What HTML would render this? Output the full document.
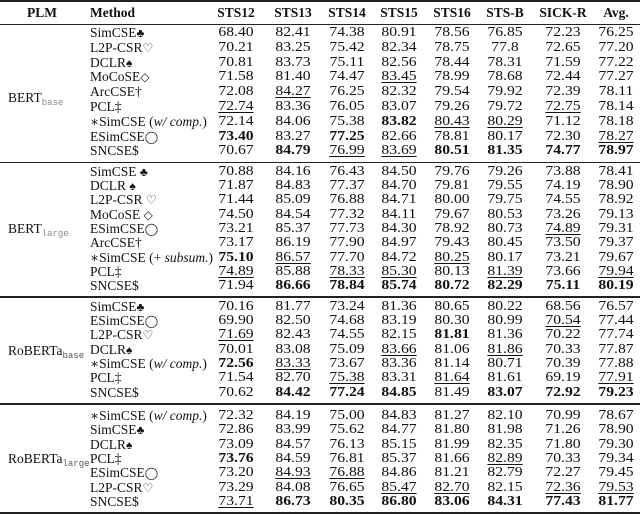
<!DOCTYPE html>
<html><head><meta charset="utf-8">
<style>
html,body{margin:0;padding:0;background:#fff;}
body{width:640px;height:514px;position:relative;overflow:hidden;font-family:"Liberation Serif","DejaVu Serif",serif;font-size:14px;color:#111;}
.r{position:absolute;left:0;width:640px;height:16px;}
.r>span{position:absolute;top:0;height:16px;line-height:16px;white-space:nowrap;}
.c{width:60px;text-align:center;transform:scaleX(1.12);}
.r>span:nth-child(2){left:206px}
.r>span:nth-child(3){left:263px}
.r>span:nth-child(4){left:317px}
.r>span:nth-child(5){left:369px}
.r>span:nth-child(6){left:422px}
.r>span:nth-child(7){left:475px}
.r>span:nth-child(8){left:533px}
.r>span:nth-child(9){left:586px}
.m{font-size:13.5px;}
.r>span:nth-child(1){left:90px}
.hd>span{font-size:13.5px;transform:none;}
b{font-weight:bold}
u{text-decoration:underline;text-underline-offset:2px;}
.h{font-weight:bold}
.line{position:absolute;left:0;width:640px;background:#222;}
.plm{position:absolute;left:8px;height:16px;line-height:16px;font-size:13.5px;white-space:nowrap;}
.sub{font-family:"Liberation Mono",monospace;font-size:9px;color:#888;vertical-align:-3px;}
.sub2{font-family:"Liberation Mono",monospace;font-size:9px;color:#555;vertical-align:-3px;}
.sym{font-size:12px;}
</style></head><body>
<div class="line" style="top:0;height:2px"></div>
<div class="line" style="top:24px;height:1px"></div>
<div class="line" style="top:161.5px;height:1.5px"></div>
<div class="line" style="top:296px;height:1.5px"></div>
<div class="line" style="top:403px;height:1.5px"></div>
<div class="line" style="top:512px;height:2px"></div>

<div class="r h hd" style="top:5px"><span class="m">Method</span><span class="c">STS12</span><span class="c">STS13</span><span class="c">STS14</span><span class="c">STS15</span><span class="c">STS16</span><span class="c">STS-B</span><span class="c">SICK-R</span><span class="c">Avg.</span></div>
<div class="plm h" style="top:5px;left:27px">PLM</div>

<div class="plm" style="top:90px;left:8px">BERT<span class="sub">base</span></div>
<div class="r" style="top:25px"><span class="m">SimCSE<span class="sym">♣</span></span><span class="c">68.40</span><span class="c">82.41</span><span class="c">74.38</span><span class="c">80.91</span><span class="c">78.56</span><span class="c">76.85</span><span class="c">72.23</span><span class="c">76.25</span></div>
<div class="r" style="top:39.8px"><span class="m">L2P-CSR<span class="sym">♡</span></span><span class="c">70.21</span><span class="c">83.25</span><span class="c">75.42</span><span class="c">82.34</span><span class="c">78.75</span><span class="c">77.8</span><span class="c">72.65</span><span class="c">77.20</span></div>
<div class="r" style="top:54.6px"><span class="m">DCLR<span class="sym">♠</span></span><span class="c">70.81</span><span class="c">83.73</span><span class="c">75.11</span><span class="c">82.56</span><span class="c">78.44</span><span class="c">78.31</span><span class="c">71.59</span><span class="c">77.22</span></div>
<div class="r" style="top:69.4px"><span class="m">MoCoSE<span class="sym">◇</span></span><span class="c">71.58</span><span class="c">81.40</span><span class="c">74.47</span><span class="c"><u>83.45</u></span><span class="c">78.99</span><span class="c">78.68</span><span class="c">72.44</span><span class="c">77.27</span></div>
<div class="r" style="top:84.2px"><span class="m">ArcCSE†</span><span class="c">72.08</span><span class="c"><u>84.27</u></span><span class="c">76.25</span><span class="c">82.32</span><span class="c">79.54</span><span class="c">79.92</span><span class="c">72.39</span><span class="c">78.11</span></div>
<div class="r" style="top:99px"><span class="m">PCL‡</span><span class="c"><u>72.74</u></span><span class="c">83.36</span><span class="c">76.05</span><span class="c">83.07</span><span class="c">79.26</span><span class="c">79.72</span><span class="c"><u>72.75</u></span><span class="c">78.14</span></div>
<div class="r" style="top:113.8px"><span class="m">∗SimCSE (<i>w/ comp.</i>)</span><span class="c">72.14</span><span class="c">84.06</span><span class="c">75.38</span><span class="c"><b>83.82</b></span><span class="c"><u>80.43</u></span><span class="c"><u>80.29</u></span><span class="c">71.12</span><span class="c">78.18</span></div>
<div class="r" style="top:128.6px"><span class="m">ESimCSE<span class="sym">◯</span></span><span class="c"><b>73.40</b></span><span class="c">83.27</span><span class="c"><b>77.25</b></span><span class="c">82.66</span><span class="c">78.81</span><span class="c">80.17</span><span class="c">72.30</span><span class="c"><u>78.27</u></span></div>
<div class="r" style="top:143.4px"><span class="m">SNCSE$</span><span class="c">70.67</span><span class="c"><b>84.79</b></span><span class="c"><u>76.99</u></span><span class="c"><u>83.69</u></span><span class="c"><b>80.51</b></span><span class="c"><b>81.35</b></span><span class="c"><b>74.77</b></span><span class="c"><b>78.97</b></span></div>

<div class="plm" style="top:221px;left:8px">BERT<span class="sub">large</span></div>
<div class="r" style="top:163.7px"><span class="m">SimCSE <span class="sym">♣</span></span><span class="c">70.88</span><span class="c">84.16</span><span class="c">76.43</span><span class="c">84.50</span><span class="c">79.76</span><span class="c">79.26</span><span class="c">73.88</span><span class="c">78.41</span></div>
<div class="r" style="top:178px"><span class="m">DCLR <span class="sym">♠</span></span><span class="c">71.87</span><span class="c">84.83</span><span class="c">77.37</span><span class="c">84.70</span><span class="c">79.81</span><span class="c">79.55</span><span class="c">74.19</span><span class="c">78.90</span></div>
<div class="r" style="top:192.3px"><span class="m">L2P-CSR <span class="sym">♡</span></span><span class="c">71.44</span><span class="c">85.09</span><span class="c">76.88</span><span class="c">84.71</span><span class="c">80.00</span><span class="c">79.75</span><span class="c">74.55</span><span class="c">78.92</span></div>
<div class="r" style="top:206.6px"><span class="m">MoCoSE <span class="sym">◇</span></span><span class="c">74.50</span><span class="c">84.54</span><span class="c">77.32</span><span class="c">84.11</span><span class="c">79.67</span><span class="c">80.53</span><span class="c">73.26</span><span class="c">79.13</span></div>
<div class="r" style="top:220.9px"><span class="m">ESimCSE<span class="sym">◯</span></span><span class="c">73.21</span><span class="c">85.37</span><span class="c">77.73</span><span class="c">84.30</span><span class="c">78.92</span><span class="c">80.73</span><span class="c"><u>74.89</u></span><span class="c">79.31</span></div>
<div class="r" style="top:235.2px"><span class="m">ArcCSE†</span><span class="c">73.17</span><span class="c">86.19</span><span class="c">77.90</span><span class="c">84.97</span><span class="c">79.43</span><span class="c">80.45</span><span class="c">73.50</span><span class="c">79.37</span></div>
<div class="r" style="top:249.5px"><span class="m">∗SimCSE (+ <i>subsum.</i>)</span><span class="c"><b>75.10</b></span><span class="c"><u>86.57</u></span><span class="c">77.70</span><span class="c">84.72</span><span class="c"><u>80.25</u></span><span class="c">80.17</span><span class="c">73.21</span><span class="c">79.67</span></div>
<div class="r" style="top:263.8px"><span class="m">PCL‡</span><span class="c"><u>74.89</u></span><span class="c">85.88</span><span class="c"><u>78.33</u></span><span class="c"><u>85.30</u></span><span class="c">80.13</span><span class="c"><u>81.39</u></span><span class="c">73.66</span><span class="c"><u>79.94</u></span></div>
<div class="r" style="top:278px"><span class="m">SNCSE$</span><span class="c">71.94</span><span class="c"><b>86.66</b></span><span class="c"><b>78.84</b></span><span class="c"><b>85.74</b></span><span class="c"><b>80.72</b></span><span class="c"><b>82.29</b></span><span class="c"><b>75.11</b></span><span class="c"><b>80.19</b></span></div>

<div class="plm" style="top:343px;left:8px">RoBERTa<span class="sub2">base</span></div>
<div class="r" style="top:298.7px"><span class="m">SimCSE<span class="sym">♣</span></span><span class="c">70.16</span><span class="c">81.77</span><span class="c">73.24</span><span class="c">81.36</span><span class="c">80.65</span><span class="c">80.22</span><span class="c">68.56</span><span class="c">76.57</span></div>
<div class="r" style="top:313px"><span class="m">ESimCSE<span class="sym">◯</span></span><span class="c">69.90</span><span class="c">82.50</span><span class="c">74.68</span><span class="c">83.19</span><span class="c">80.30</span><span class="c">80.99</span><span class="c"><u>70.54</u></span><span class="c">77.44</span></div>
<div class="r" style="top:327.3px"><span class="m">L2P-CSR<span class="sym">♡</span></span><span class="c"><u>71.69</u></span><span class="c">82.43</span><span class="c">74.55</span><span class="c">82.15</span><span class="c"><b>81.81</b></span><span class="c">81.36</span><span class="c">70.22</span><span class="c">77.74</span></div>
<div class="r" style="top:341.6px"><span class="m">DCLR<span class="sym">♠</span></span><span class="c">70.01</span><span class="c">83.08</span><span class="c">75.09</span><span class="c"><u>83.66</u></span><span class="c">81.06</span><span class="c"><u>81.86</u></span><span class="c">70.33</span><span class="c">77.87</span></div>
<div class="r" style="top:355.9px"><span class="m">∗SimCSE (<i>w/ comp.</i>)</span><span class="c"><b>72.56</b></span><span class="c"><u>83.33</u></span><span class="c">73.67</span><span class="c">83.36</span><span class="c">81.14</span><span class="c">80.71</span><span class="c">70.39</span><span class="c">77.88</span></div>
<div class="r" style="top:370.2px"><span class="m">PCL‡</span><span class="c">71.54</span><span class="c">82.70</span><span class="c"><u>75.38</u></span><span class="c">83.31</span><span class="c"><u>81.64</u></span><span class="c">81.61</span><span class="c">69.19</span><span class="c"><u>77.91</u></span></div>
<div class="r" style="top:384.5px"><span class="m">SNCSE$</span><span class="c">70.62</span><span class="c"><b>84.42</b></span><span class="c"><b>77.24</b></span><span class="c"><b>84.85</b></span><span class="c">81.49</span><span class="c"><b>83.07</b></span><span class="c"><b>72.92</b></span><span class="c"><b>79.23</b></span></div>

<div class="plm" style="top:451px;left:8px">RoBERTa<span class="sub2">large</span></div>
<div class="r" style="top:408px"><span class="m">∗SimCSE (<i>w/ comp.</i>)</span><span class="c">72.32</span><span class="c">84.19</span><span class="c">75.00</span><span class="c">84.83</span><span class="c">81.27</span><span class="c">82.10</span><span class="c">70.99</span><span class="c">78.67</span></div>
<div class="r" style="top:422.3px"><span class="m">SimCSE<span class="sym">♣</span></span><span class="c">72.86</span><span class="c">83.99</span><span class="c">75.62</span><span class="c">84.77</span><span class="c">81.80</span><span class="c">81.98</span><span class="c">71.26</span><span class="c">78.90</span></div>
<div class="r" style="top:436.6px"><span class="m">DCLR<span class="sym">♠</span></span><span class="c">73.09</span><span class="c">84.57</span><span class="c">76.13</span><span class="c">85.15</span><span class="c">81.99</span><span class="c">82.35</span><span class="c">71.80</span><span class="c">79.30</span></div>
<div class="r" style="top:450.9px"><span class="m">PCL‡</span><span class="c"><b>73.76</b></span><span class="c">84.59</span><span class="c">76.81</span><span class="c">85.37</span><span class="c">81.66</span><span class="c"><u>82.89</u></span><span class="c">70.33</span><span class="c">79.34</span></div>
<div class="r" style="top:465.2px"><span class="m">ESimCSE<span class="sym">◯</span></span><span class="c">73.20</span><span class="c"><u>84.93</u></span><span class="c"><u>76.88</u></span><span class="c">84.86</span><span class="c">81.21</span><span class="c">82.79</span><span class="c">72.27</span><span class="c">79.45</span></div>
<div class="r" style="top:479.5px"><span class="m">L2P-CSR<span class="sym">♡</span></span><span class="c">73.29</span><span class="c">84.08</span><span class="c">76.65</span><span class="c"><u>85.47</u></span><span class="c"><u>82.70</u></span><span class="c">82.15</span><span class="c"><u>72.36</u></span><span class="c"><u>79.53</u></span></div>
<div class="r" style="top:493.8px"><span class="m">SNCSE$</span><span class="c"><u>73.71</u></span><span class="c"><b>86.73</b></span><span class="c"><b>80.35</b></span><span class="c"><b>86.80</b></span><span class="c"><b>83.06</b></span><span class="c"><b>84.31</b></span><span class="c"><b>77.43</b></span><span class="c"><b>81.77</b></span></div>
</body></html>
